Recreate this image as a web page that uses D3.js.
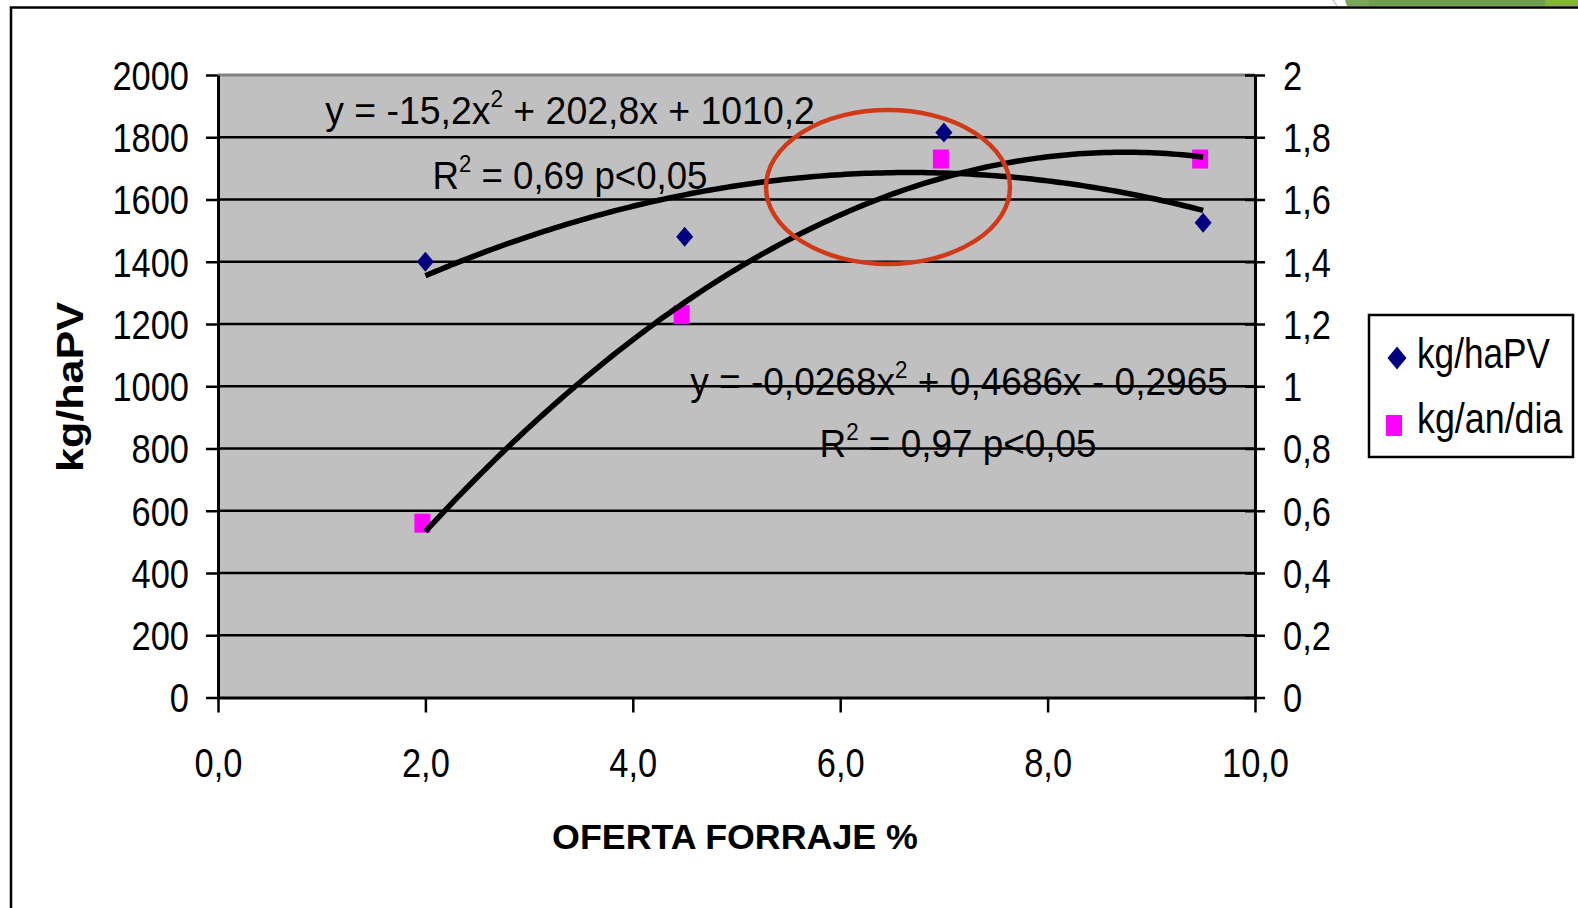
<!DOCTYPE html>
<html>
<head>
<meta charset="utf-8">
<script src="https://cdn.jsdelivr.net/npm/d3@7"></script>
<style>
  body { margin: 0; background: #fff; }
  svg { display: block; }
  text { font-family: "Liberation Sans", Arial, sans-serif; fill: #000; }
</style>
</head>
<body>
<div id="chart"></div>
<script>
// data
var ofertaX = [2.0, 4.5, 7.0, 9.5];
var kgHaPV = [1400, 1480, 1815, 1525];
var kgAnDia = [0.56, 1.23, 1.73, 1.73];
var xTicks = [0, 2, 4, 6, 8, 10];
var leftTicks = [0, 200, 400, 600, 800, 1000, 1200, 1400, 1600, 1800, 2000];
var rightTicks = [0, 0.2, 0.4, 0.6, 0.8, 1, 1.2, 1.4, 1.6, 1.8, 2];
var trendHaPV = [-15.2, 202.8, 1010.2];   // a, b, c  (ax^2 + bx + c)
var trendAnDia = [-0.0268, 0.4686, -0.2965];
var seriesNames = ["kg/haPV", "kg/an/dia"];

var width = 1578, height = 908;
var pLeft = 218, pRight = 1255, pTop = 75, pBottom = 697.5;

var svg = d3.select("#chart").append("svg")
  .attr("width", width)
  .attr("height", height);

var x = d3.scaleLinear().domain([0, 10]).range([pLeft, pRight]);
var yL = d3.scaleLinear().domain([0, 2000]).range([pBottom, pTop]);
var yR = d3.scaleLinear().domain([0, 2]).range([pBottom, pTop]);

var es = d3.formatLocale({decimal: ",", thousands: ".", grouping: [3], currency: ["", ""]});
var fmtX = es.format(".1f");
var fmtR = function(d) { return String(+d.toFixed(1)).replace(".", ","); };

// outer frame + the green strip top right
svg.append("path")
  .attr("d", "M11,908 V7.5 H1578")
  .attr("fill", "none").attr("stroke", "#000").attr("stroke-width", 2.5);
svg.append("line").attr("x1", 1333).attr("y1", 0).attr("x2", 1337).attr("y2", 6)
  .attr("stroke", "#aaa").attr("stroke-width", 1);
svg.append("path").attr("d", "M1345,0 H1369 V6 H1347 Z").attr("fill", "#78a65a");
svg.append("rect").attr("x", 1369).attr("y", 0).attr("width", 176).attr("height", 6).attr("fill", "#6e9e50");
svg.append("rect").attr("x", 1545).attr("y", 0).attr("width", 33).attr("height", 6).attr("fill", "#84b43c");

// plot area
svg.append("rect")
  .attr("x", pLeft).attr("y", pTop)
  .attr("width", pRight - pLeft).attr("height", pBottom - pTop)
  .attr("fill", "#c0c0c0");

// gridlines
svg.append("g").selectAll("line")
  .data(leftTicks.filter(function(d) { return d > 0 && d < 2000; }))
  .enter().append("line")
  .attr("x1", pLeft).attr("x2", pRight)
  .attr("y1", function(d) { return yL(d); })
  .attr("y2", function(d) { return yL(d); })
  .attr("stroke", "#000").attr("stroke-width", 2.5);

svg.append("line")
  .attr("x1", pLeft).attr("x2", pRight)
  .attr("y1", yL(2000)).attr("y2", yL(2000))
  .attr("stroke", "#808080").attr("stroke-width", 3);

// markers
function diamond(w, h) {
  return "M0," + (-h) + " L" + w + ",0 L0," + h + " L" + (-w) + ",0 Z";
}

svg.append("g").selectAll("path")
  .data(ofertaX)
  .enter().append("path")
  .attr("d", diamond(8.5, 10))
  .attr("transform", function(d, i) { return "translate(" + x(d) + "," + yL(kgHaPV[i]) + ")"; })
  .attr("fill", "#000080");

svg.append("g").selectAll("rect")
  .data(ofertaX)
  .enter().append("rect")
  .attr("x", function(d) { return x(d) - 11; })
  .attr("y", function(d, i) { return yR(kgAnDia[i]) - 9.5; })
  .attr("width", 16).attr("height", 19)
  .attr("fill", "#ff00ff");

// trendlines (from the equations printed on the chart)
function poly(c) { return function(v) { return c[0] * v * v + c[1] * v + c[2]; }; }
var xs = d3.range(ofertaX[0], ofertaX[ofertaX.length - 1] + 0.001, 0.05);

svg.append("path")
  .datum(xs)
  .attr("d", d3.line().x(function(d) { return x(d); }).y(function(d) { return yL(poly(trendHaPV)(d)); }))
  .attr("fill", "none").attr("stroke", "#000").attr("stroke-width", 5.5);

svg.append("path")
  .datum(xs)
  .attr("d", d3.line().x(function(d) { return x(d); }).y(function(d) { return yR(poly(trendAnDia)(d)); }))
  .attr("fill", "none").attr("stroke", "#000").attr("stroke-width", 5.5);

// axes
function styleAxis(g) {
  g.selectAll("path.domain").attr("stroke", "#000").attr("stroke-width", 3);
  g.selectAll(".tick line").attr("stroke", "#000").attr("stroke-width", 2.5);
  g.selectAll(".tick text")
    .attr("font-size", 41)
    .attr("font-family", "Liberation Sans, Arial, sans-serif")
    .attr("fill", "#000");
}

var gL = svg.append("g")
  .attr("transform", "translate(" + pLeft + ",0)")
  .call(d3.axisLeft(yL).tickValues(leftTicks).tickFormat(d3.format("d")).tickSize(12).tickSizeOuter(0));
styleAxis(gL);
gL.selectAll(".tick text").attr("x", 0).attr("dy", "0.35em")
  .attr("transform", "translate(-29,0) scale(0.84,1)");

var gR = svg.append("g")
  .attr("transform", "translate(" + pRight + ",0)")
  .call(d3.axisRight(yR).tickValues(rightTicks).tickFormat(fmtR).tickSize(10).tickSizeOuter(0));
styleAxis(gR);
gR.selectAll(".tick line").attr("x1", -10);
gR.selectAll(".tick text").attr("x", 0).attr("dy", "0.35em")
  .attr("transform", "translate(28,0) scale(0.84,1)");

var gB = svg.append("g")
  .attr("transform", "translate(0," + pBottom + ")")
  .call(d3.axisBottom(x).tickValues(xTicks).tickFormat(fmtX).tickSize(15).tickSizeOuter(0));
styleAxis(gB);
gB.selectAll(".tick text").attr("y", 0).attr("dy", 0)
  .attr("transform", "translate(0,79.5) scale(0.84,1)");

// text helper: squeeze/stretch a text to the width it has in the picture
function fit(t, px, py, w, rot) {
  var bw = t.node().getBBox().width;
  t.attr("transform", "translate(" + px + "," + py + ")" + (rot ? " rotate(" + rot + ")" : "") +
    " scale(" + (w / bw) + ",1)");
}

function equation(parts, px, py, w) {
  var t = svg.append("text").attr("x", 0).attr("y", 0)
    .attr("text-anchor", "middle").attr("font-size", 38)
    .style("white-space", "pre");
  t.append("tspan").text(parts[0]);
  t.append("tspan").attr("font-size", 23).attr("dy", -17).text("2");
  t.append("tspan").attr("dy", 17).text(parts[1]);
  fit(t, px, py, w);
}

equation(["y = -15,2x", " + 202,8x + 1010,2"], 570, 124, 490);
equation(["R", " = 0,69 p<0,05"], 570, 189, 275);
equation(["y = -0,0268x", " + 0,4686x - 0,2965"], 959, 395, 538);
equation(["R", " = 0,97 p<0,05"], 958, 457, 277);

// axis titles
var xt = svg.append("text").attr("text-anchor", "middle")
  .attr("font-size", 35).attr("font-weight", "bold").text("OFERTA FORRAJE %");
fit(xt, 735, 849, 366);

var yt = svg.append("text").attr("text-anchor", "middle")
  .attr("font-size", 36).attr("font-weight", "bold").text(seriesNames[0]);
fit(yt, 83, 387, 170, -90);

// highlight ellipse
svg.append("ellipse")
  .attr("cx", 888).attr("cy", 187).attr("rx", 122).attr("ry", 77)
  .attr("fill", "none").attr("stroke", "#d03a18").attr("stroke-width", 4.5);

// legend
var lg = svg.append("g");
lg.append("rect")
  .attr("x", 1369).attr("y", 315).attr("width", 204).attr("height", 142)
  .attr("fill", "#fff").attr("stroke", "#000").attr("stroke-width", 2.5);
lg.append("path").attr("d", diamond(9.5, 11.5))
  .attr("transform", "translate(1397,358)").attr("fill", "#000080");
lg.append("rect").attr("x", 1386).attr("y", 415).attr("width", 16).attr("height", 21)
  .attr("fill", "#ff00ff");
var l1 = lg.append("text").attr("font-size", 42).text(seriesNames[0]);
fit(l1, 1417, 368, 133);
var l2 = lg.append("text").attr("font-size", 42).text(seriesNames[1]);
fit(l2, 1417, 433, 146);
</script>
</body>
</html>
